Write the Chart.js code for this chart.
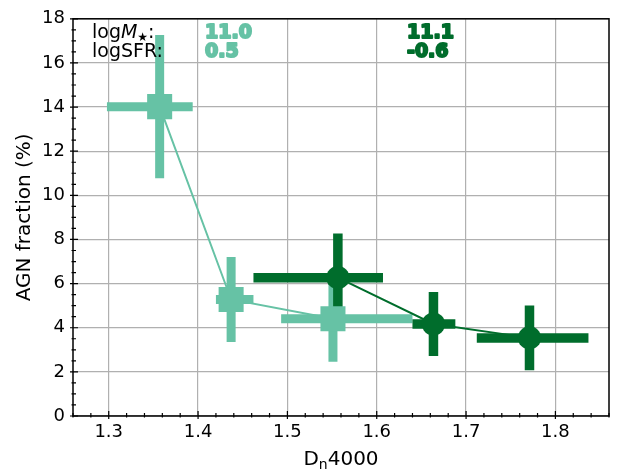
<!DOCTYPE html>
<html>
<head>
<meta charset="utf-8">
<style>
  html, body { margin: 0; padding: 0; background: #fff; }
  #wrap { width: 620px; height: 472px; }
</style>
<script src="https://cdn.jsdelivr.net/npm/chart.js@4.4.1/dist/chart.umd.min.js"></script>
</head>
<body>
<div id="wrap"><canvas id="chart"></canvas></div>
<script>
// axis ticks
const X_TICKS = [1.3, 1.4, 1.5, 1.6, 1.7, 1.8];
const Y_TICKS = [0, 2, 4, 6, 8, 10, 12, 14, 16, 18];

// light series (squares)
const LIGHT_X    = [1.357, 1.437, 1.551];
const LIGHT_Y    = [14.02, 5.28, 4.41];
const LIGHT_X_LO = [1.298, 1.420, 1.493];
const LIGHT_X_HI = [1.394, 1.462, 1.640];
const LIGHT_Y_ERR = [3.25, 1.93, 1.95];
const LIGHT_INFO = ['11.0', '0.5'];

// dark series (circles)
const DARK_X    = [1.5565, 1.6635, 1.771];
const DARK_Y    = [6.27, 4.17, 3.54];
const DARK_X_LO = [1.462, 1.640, 1.712];
const DARK_X_HI = [1.607, 1.688, 1.837];
const DARK_Y_ERR = [2.0, 1.45, 1.47];
const DARK_INFO = ['11.1', '-0.6'];

const LIGHT = '#66c2a5';
const DARK  = '#006d2c';
const FONT  = 'DejaVu Sans';

const SERIES = [
    { color: LIGHT, x: LIGHT_X, y: LIGHT_Y, xLo: LIGHT_X_LO, xHi: LIGHT_X_HI, yErr: LIGHT_Y_ERR, bar: 9 },
    { color: DARK,  x: DARK_X,  y: DARK_Y,  xLo: DARK_X_LO,  xHi: DARK_X_HI,  yErr: DARK_Y_ERR,  bar: 9.5 },
];

const toPoints = (xs, ys) => xs.map((v, i) => ({ x: v, y: ys[i] }));

const errorBars = {
    id: 'errorBars',
    beforeDatasetsDraw(chart) {
        const { ctx, scales: { x, y } } = chart;
        ctx.save();
        ctx.lineCap = 'butt';
        SERIES.forEach(s => {
            ctx.strokeStyle = s.color;
            ctx.lineWidth = s.bar;
            s.x.forEach((xv, i) => {
                const px = x.getPixelForValue(xv);
                const py = y.getPixelForValue(s.y[i]);
                ctx.beginPath();
                ctx.moveTo(x.getPixelForValue(s.xLo[i]), py);
                ctx.lineTo(x.getPixelForValue(s.xHi[i]), py);
                ctx.moveTo(px, y.getPixelForValue(s.y[i] - s.yErr[i]));
                ctx.lineTo(px, y.getPixelForValue(s.y[i] + s.yErr[i]));
                ctx.stroke();
            });
        });
        ctx.restore();
    }
};

const frame = {
    id: 'frame',
    afterDraw(chart) {
        const { ctx, chartArea: a, scales: { x, y } } = chart;
        ctx.save();
        ctx.strokeStyle = '#000';
        ctx.lineWidth = 1.5;
        ctx.strokeRect(a.left, a.top, a.right - a.left, a.bottom - a.top);

        // tick marks (major + minor)
        ctx.lineWidth = 1.2;
        ctx.beginPath();
        for (let k = 63; k <= 93; k++) {
            const px = x.getPixelForValue(k / 50);
            if (px < a.left - 0.5 || px > a.right + 0.5) continue;
            const major = k % 5 === 0;
            ctx.moveTo(px, a.bottom - (major ? 5 : 3));
            ctx.lineTo(px, a.bottom + (major ? 3 : 1.5));
        }
        for (let k = 0; k <= 36; k++) {
            const py = y.getPixelForValue(k / 2);
            const major = k % 4 === 0;
            ctx.moveTo(a.left - (major ? 3 : 1.5), py);
            ctx.lineTo(a.left + (major ? 5 : 3), py);
        }
        ctx.stroke();

        // axis titles
        ctx.fillStyle = '#000';
        ctx.font = `20px "${FONT}"`;
        ctx.textBaseline = 'alphabetic';
        ctx.save();
        ctx.translate(30, (a.top + a.bottom) / 2);
        ctx.rotate(-Math.PI / 2);
        ctx.textAlign = 'center';
        ctx.fillText('AGN fraction (%)', 0, 0);
        ctx.restore();

        ctx.textAlign = 'left';
        const cx = (a.left + a.right) / 2;
        const wD = ctx.measureText('D').width;
        ctx.font = `14px "${FONT}"`;
        const wn = ctx.measureText('n').width;
        ctx.font = `20px "${FONT}"`;
        const w4 = ctx.measureText('4000').width;
        let tx = cx - (wD + wn + w4) / 2;
        const by = 465;
        ctx.fillText('D', tx, by); tx += wD;
        ctx.font = `14px "${FONT}"`;
        ctx.fillText('n', tx, by + 4); tx += wn;
        ctx.font = `20px "${FONT}"`;
        ctx.fillText('4000', tx, by);

        // annotation labels
        let lx = 92;
        ctx.font = `19px "${FONT}"`;
        ctx.fillText('log', lx, 38); lx += ctx.measureText('log').width;
        ctx.font = `italic 19px "${FONT}"`;
        ctx.fillText('M', lx, 38); lx += ctx.measureText('M').width;
        ctx.font = `12px "${FONT}"`;
        ctx.fillText('★', lx, 41); lx += ctx.measureText('★').width;
        ctx.font = `19px "${FONT}"`;
        ctx.fillText(':', lx, 38);
        ctx.fillText('logSFR:', 92, 57);

        ctx.font = `bold 19px "${FONT}"`;
        ctx.lineJoin = 'round';
        ctx.lineWidth = 2;
        [[LIGHT_INFO, LIGHT, 205], [DARK_INFO, DARK, 407]].forEach(([info, col, px]) => {
            ctx.fillStyle = col;
            ctx.strokeStyle = col;
            info.forEach((t, i) => {
                ctx.strokeText(t, px, 38 + i * 19);
                ctx.fillText(t, px, 38 + i * 19);
            });
        });
        ctx.restore();
    }
};

Chart.defaults.font.family = FONT;
Chart.defaults.color = '#000';

new Chart(document.getElementById('chart').getContext('2d'), {
    type: 'scatter',
    data: {
        datasets: [
            {
                label: 'dark',
                data: toPoints(DARK_X, DARK_Y),
                showLine: true,
                borderColor: DARK,
                backgroundColor: DARK,
                borderWidth: 2,
                pointStyle: 'circle',
                pointRadius: 11.6,
                pointBorderWidth: 0,
                pointBackgroundColor: DARK,
                order: 1,
            },
            {
                label: 'light',
                data: toPoints(LIGHT_X, LIGHT_Y),
                showLine: true,
                borderColor: LIGHT,
                backgroundColor: LIGHT,
                borderWidth: 2,
                pointStyle: 'rect',
                pointRadius: 17.7,
                pointBorderWidth: 0,
                pointBackgroundColor: LIGHT,
                order: 2,
            },
        ]
    },
    options: {
        animation: false,
        responsive: true,
        maintainAspectRatio: false,
        layout: { autoPadding: false, padding: { left: 0, top: 16, right: 11, bottom: 0 } },
        plugins: {
            legend: { display: false },
            tooltip: { enabled: false },
        },
        scales: {
            x: {
                type: 'linear',
                min: 1.26, max: 1.86,
                afterBuildTicks: s => { s.ticks = X_TICKS.map(v => ({ value: v })); },
                afterFit: s => { s.height = 56; },
                ticks: { font: { size: 18 }, padding: 6, maxRotation: 0, callback: v => v.toFixed(1) },
                grid: { color: '#b0b0b0', lineWidth: 1.2, drawTicks: false },
                border: { display: false },
            },
            y: {
                min: 0, max: 18,
                afterBuildTicks: s => { s.ticks = Y_TICKS.map(v => ({ value: v })); },
                afterFit: s => { s.width = 73; },
                ticks: { font: { size: 18 }, padding: 8, callback: v => String(v) },
                grid: { color: '#b0b0b0', lineWidth: 1.2, drawTicks: false },
                border: { display: false },
            }
        }
    },
    plugins: [errorBars, frame]
});
</script>
</body>
</html>
